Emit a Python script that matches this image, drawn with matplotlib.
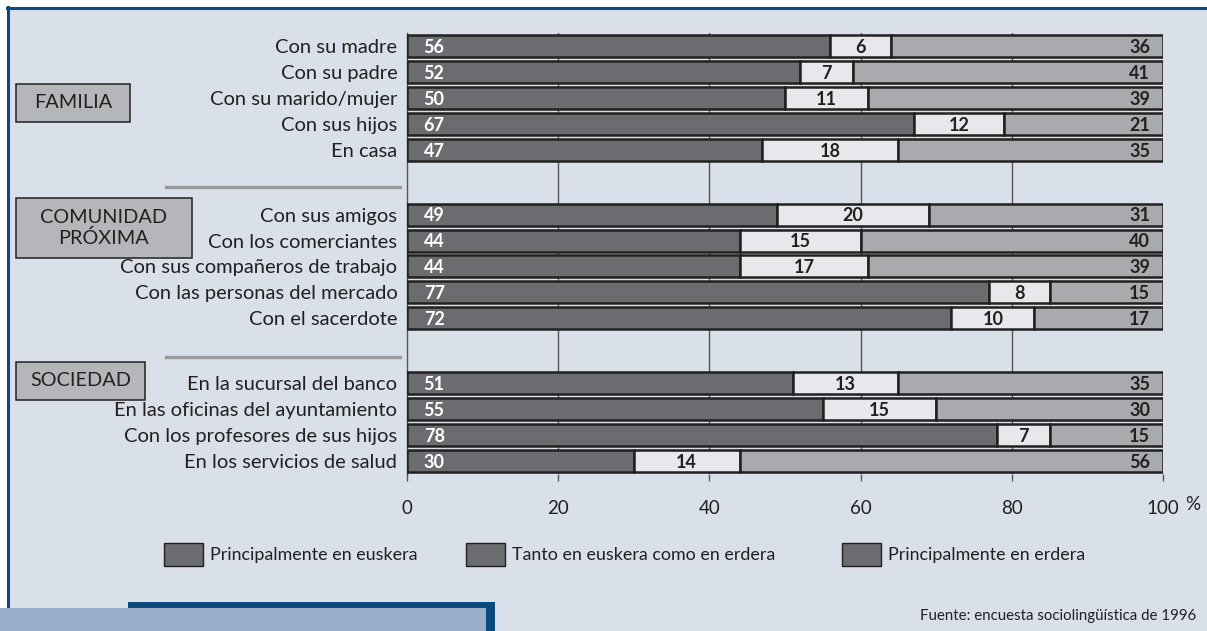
import matplotlib.pyplot as plt
from matplotlib.patches import Rectangle
from matplotlib.lines import Line2D

plt.rcParams['font.family'] = ['Lato', 'DejaVu Sans']

# data
labels = ['Con su madre', 'Con su padre', 'Con su marido/mujer', 'Con sus hijos', 'En casa',
          'Con sus amigos', 'Con los comerciantes', 'Con sus compañeros de trabajo',
          'Con las personas del mercado', 'Con el sacerdote',
          'En la sucursal del banco', 'En las oficinas del ayuntamiento',
          'Con los profesores de sus hijos', 'En los servicios de salud']
euskera = [56, 52, 50, 67, 47, 49, 44, 44, 77, 72, 51, 55, 78, 30]
ambos = [6, 7, 11, 12, 18, 20, 15, 17, 8, 10, 13, 15, 7, 14]
erdera = [36, 41, 39, 21, 35, 31, 40, 39, 15, 17, 35, 30, 15, 56]
groups = ['FAMILIA', 'COMUNIDAD\nPRÓXIMA', 'SOCIEDAD']
group_sizes = [5, 5, 4]
series_names = ['Principalmente en euskera', 'Tanto en euskera como en erdera',
                'Principalmente en erdera']
xticks = [0, 20, 40, 60, 80, 100]

W, H = 1207, 631
fig = plt.figure(figsize=(W / 100, H / 100), dpi=100, facecolor='white')

def fx(px):
    return px / W

def fy(py):
    return 1 - py / H

def frect(x0, y0, x1, y1, **kw):
    r = Rectangle((fx(x0), fy(y1)), fx(x1) - fx(x0), fy(y0) - fy(y1),
                  transform=fig.transFigure, **kw)
    fig.patches.append(r)
    return r

def fline(x0, y0, x1, y1, **kw):
    fig.lines.append(Line2D([fx(x0), fx(x1)], [fy(y0), fy(y1)],
                            transform=fig.transFigure, **kw))

# background panel and frame
frect(8, 8, W + 2, H + 2, facecolor='#d9e0ea', edgecolor='none', zorder=-5)
fline(7, 8, W, 8, color='#0b4a7d', lw=2.2, zorder=-4)
fline(8, 7, 8, 612, color='#0b4a7d', lw=2.2, zorder=-4)
frect(128, 602, 495, H + 2, facecolor='#0b4a7d', edgecolor='none', zorder=-3)
frect(0, 608, 486, H + 2, facecolor='#99aecb', edgecolor='none', zorder=-2)

# y positions with gaps between groups
ypos = []
y = 0.0
for gi, n in enumerate(group_sizes):
    for i in range(n):
        ypos.append(y)
        y += 1
    y += 1.5

ax = fig.add_axes([fx(407), fy(474), fx(1163) - fx(407), fy(33) - fy(474)])
ax.set_facecolor('none')

dark, light, mid = '#6b6c70', '#e7e8eb', '#a9aaad'
ec = '#231f20'
h = 0.85
for yy, a, b, c in zip(ypos, euskera, ambos, erdera):
    ax.barh(yy, a, left=0, height=h, color=dark, edgecolor=ec, lw=1.8, zorder=3)
    ax.barh(yy, 100 - c - a, left=a, height=h, color=light, edgecolor=ec, lw=1.8, zorder=3)
    ax.barh(yy, c, left=100 - c, height=h, color=mid, edgecolor=ec, lw=1.8, zorder=3)
    ax.text(2.2, yy + 0.05, str(a), color='white', fontsize=13, fontweight='bold',
            ha='left', va='center', zorder=4)
    ax.text(a + (100 - c - a) / 2, yy + 0.05, str(b), color=ec, fontsize=13,
            fontweight='bold', ha='center', va='center', zorder=4)
    ax.text(98.3, yy + 0.05, str(c), color=ec, fontsize=13, fontweight='bold',
            ha='right', va='center', zorder=4)

ax.set_xlim(0, 100)
ax.set_ylim(ypos[-1] + 0.5, -0.5)
ax.set_yticks(ypos, labels)
ax.tick_params(axis='y', length=0, pad=7, labelsize=14.5, labelcolor=ec)
ax.set_xticks(xticks)
ax.set_xticklabels([str(t) for t in xticks])
ax.tick_params(axis='x', length=5, width=1, color='#555555', pad=14,
               labelsize=13.5, labelcolor=ec)
for t in xticks[1:-1]:
    ax.axvline(t, color='#555555', lw=1, zorder=1)
ax.axvline(100, color='#8a8a8e', lw=0.8, zorder=1)
for s in ['top', 'right', 'bottom']:
    ax.spines[s].set_visible(False)
ax.spines['left'].set_color('#555555')
ax.spines['left'].set_linewidth(1)

fig.text(fx(1193), fy(504), '%', ha='center', va='center', fontsize=13.5, color=ec)

# group boxes
boxes = [(16, 84, 130, 122), (16, 198, 192, 258), (16, 362, 145, 400)]
for (x0, y0, x1, y1), name in zip(boxes, groups):
    frect(x0, y0, x1, y1, facecolor='#b5b6ba', edgecolor=ec, lw=1.1)
    fig.text(fx((x0 + x1) / 2), fy((y0 + y1) / 2), name, ha='center', va='center',
             fontsize=14.3, color=ec, linespacing=1.15)

# separators
for yy in [187, 357]:
    fline(166, yy, 400, yy, color='#9a9a9c', lw=2.4)

# legend
for x0, name in zip([164, 466, 842], series_names):
    frect(x0, 543, x0 + 39, 566, facecolor=dark, edgecolor=ec, lw=1)
    fig.text(fx(x0 + 46), fy(555), name, ha='left', va='center', fontsize=12.9, color=ec)

fig.text(fx(1196), fy(616), 'Fuente: encuesta sociolingüística de 1996', ha='right',
         va='center', fontsize=10.8, color=ec)

fig.savefig('out.png', dpi=100, facecolor='white')
